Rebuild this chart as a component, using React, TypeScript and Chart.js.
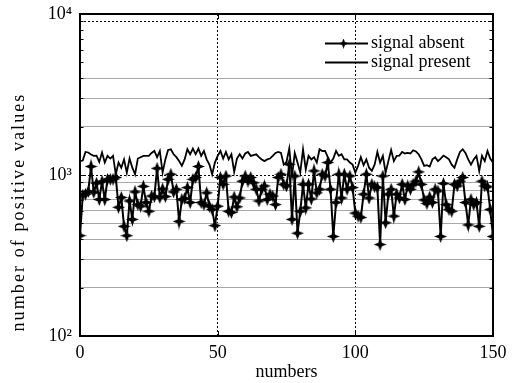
import React, { useEffect, useRef } from 'react';
import { Chart, registerables } from 'chart.js';

Chart.register(...registerables);

// sample numbers (x axis)
const sampleNumbers: number[] = Array.from({ length: 151 }, (_, i) => i);

const signalAbsent: number[] = [
  420, 750, 760, 790, 1130, 780, 890, 705, 910, 705,
  940, 940, 940, 965, 630, 725, 480, 420, 690, 530,
  785, 655, 640, 850, 675, 595, 740, 735, 1100, 725,
  820, 735, 940, 1010, 785, 815, 515, 705, 715, 835,
  675, 940, 965, 1130, 675, 655, 775, 640, 610, 485,
  640,
  965, 875, 985, 595, 585, 730, 635, 720, 915, 985,
  915, 965, 895, 815, 690, 815, 855, 705, 760, 740,
  655, 965, 1010, 875, 855, 1165, 530, 985, 435, 595,
  875, 625, 875, 710, 1060, 775, 815, 1010, 985, 1195,
  815, 415, 675, 1010, 720, 1010, 815, 985, 835, 580, 555,
  545, 760, 1010, 720, 875, 845, 835, 370, 985, 505,
  760, 815, 555, 760, 720, 875, 705, 855, 815, 875,
  915, 1045, 875, 700, 665, 730, 675, 815, 795, 415,
  885, 655, 610, 595, 875, 855, 915, 965, 675, 490,
  705, 655, 675, 480, 915, 855, 845, 610, 415,
];

const signalPresent: number[] = [
  1220, 1230, 1390, 1380, 1340, 1315, 1320, 1205, 1380, 1195,
  1315, 1265, 1315, 1010, 1195, 1110, 1250, 1035, 1265, 1110,
  1010, 1265, 1290, 1315, 1315, 1315, 1370, 1410, 1290, 1410,
  1035, 1250, 1430, 1445, 1345, 1290, 1220, 1140, 1250, 1445,
  1345, 1460, 1345, 1460, 1315, 1410, 1250, 1160, 1010, 1195,
  1315, 1410, 1265, 1390, 1250, 1345, 1045, 1265, 1345, 1265,
  1360, 1390, 1315, 1330, 1345, 1290, 1250, 1220, 1250, 1265,
  1315, 1370, 1390, 1370, 1160, 1205, 1460, 985, 1370, 1195,
  1035, 1445, 1085, 1315, 1250, 1290, 1195, 1445, 1410, 1410,
  1290, 1195, 1265, 1410, 1315, 1345, 1250, 1250, 1195, 1160,
  1035, 1140, 1290, 1150, 1250, 1110, 1060, 1160, 1390, 1195,
  1315, 1035, 1220, 1430, 1220, 1315, 1320, 1390, 1360, 1370,
  1360, 1425, 1400, 1345, 1250, 1140, 1150, 1130, 1250, 1290,
  1220, 1265, 1320, 1290, 1250, 1160, 1110, 1250, 1390, 1445,
  1370, 1250, 1160, 1250, 1315, 1060, 1315, 1220, 1410, 1265,
  1195,
];

const seriesLabels = ['signal absent', 'signal present'];
const xTitle = 'numbers';
const yTitle = 'number of positive values';

const xTicks: number[] = [0, 50, 100, 150];
const yMajorTicks: number[] = [100, 1000, 10000];
const yMinorTicks: number[] = [200, 300, 400, 500, 600, 700, 800, 900, 2000, 3000, 4000, 5000, 6000, 7000, 8000, 9000];
const yHiddenMinor: number[] = [5000, 6000, 7000, 8000];
const yDottedMinor: number[] = [9000];
const yTickLabels: Record<number, string> = { 100: '10²', 1000: '10³', 10000: '10⁴' };

const FONT = '"Liberation Serif", "Times New Roman", serif';

function makeStar(size: number): HTMLCanvasElement {
  const c = document.createElement('canvas');
  c.width = size;
  c.height = size;
  const g = c.getContext('2d')!;
  const r = size / 2;
  const ri = size * 0.2;
  g.beginPath();
  for (let k = 0; k < 8; k++) {
    const ang = (k * Math.PI) / 4 - Math.PI / 2;
    const rad = k % 2 === 0 ? r : ri;
    g.lineTo(r + rad * Math.cos(ang), r + rad * Math.sin(ang));
  }
  g.closePath();
  g.fillStyle = '#000';
  g.fill();
  return c;
}

export default function App() {
  const ref = useRef<HTMLCanvasElement | null>(null);

  useEffect(() => {
    if (!ref.current) return;
    const star = makeStar(13);

    const frame = {
      id: 'frame',
      afterDraw(chart: any) {
        const { ctx, chartArea } = chart;
        const { left, right, top, bottom } = chartArea;
        const ys = chart.scales.y;
        const xs = chart.scales.x;
        ctx.save();
        ctx.strokeStyle = '#000';
        ctx.lineWidth = 1;
        // inward tick marks
        const all = [...yMajorTicks, ...yMinorTicks];
        all.forEach((v) => {
          const py = Math.round(ys.getPixelForValue(v)) + 0.5;
          const len = yMajorTicks.includes(v) ? 6 : 3.5;
          ctx.beginPath();
          ctx.moveTo(left, py);
          ctx.lineTo(left + len, py);
          ctx.moveTo(right, py);
          ctx.lineTo(right - len, py);
          ctx.stroke();
        });
        xTicks.forEach((v) => {
          const px = Math.round(xs.getPixelForValue(v)) + 0.5;
          ctx.beginPath();
          ctx.moveTo(px, bottom);
          ctx.lineTo(px, bottom - 5);
          ctx.moveTo(px, top);
          ctx.lineTo(px, top + 5);
          ctx.stroke();
        });
        // box
        ctx.lineWidth = 2;
        ctx.strokeRect(left, top, right - left, bottom - top);

        // legend
        ctx.font = `18px ${FONT}`;
        ctx.fillStyle = '#000';
        ctx.textBaseline = 'middle';
        ctx.textAlign = 'left';
        const x0 = right - 168;
        const x1 = right - 125;
        chart.data.datasets.forEach((ds: any, i: number) => {
          const y = Math.round(top + 29 + i * 19) + 0.5;
          ctx.lineWidth = 2;
          ctx.beginPath();
          ctx.moveTo(x0, y);
          ctx.lineTo(x1, y);
          ctx.stroke();
          if (i === 0) {
            ctx.drawImage(star, (x0 + x1) / 2 - 8, y - 5, 10, 10);
          }
          ctx.fillText(ds.label, x1 + 3, y);
        });

        // y axis title (wider letter spacing as in the original)
        ctx.save();
        ctx.translate(19, 212);
        ctx.rotate(-Math.PI / 2);
        ctx.font = `18px ${FONT}`;
        (ctx as any).letterSpacing = '2.1px';
        ctx.textAlign = 'center';
        ctx.textBaseline = 'middle';
        ctx.fillText(yTitle, 0, 0);
        ctx.restore();

        ctx.restore();
      },
    };

    const chart = new Chart(ref.current, {
      type: 'line',
      data: {
        datasets: [
          {
            label: seriesLabels[0],
            data: sampleNumbers.map((x, i) => ({ x, y: signalAbsent[i] })),
            borderColor: '#000',
            backgroundColor: '#000',
            borderWidth: 2,
            pointStyle: star as any,
            pointRadius: 6,
            tension: 0,
          },
          {
            label: seriesLabels[1],
            data: sampleNumbers.map((x, i) => ({ x, y: signalPresent[i] })),
            borderColor: '#000',
            backgroundColor: '#000',
            borderWidth: 1.8,
            pointRadius: 0,
            tension: 0,
          },
        ],
      },
      options: {
        animation: false,
        responsive: false,
        devicePixelRatio: 1,
        layout: { padding: { left: 0, right: 21, top: 14, bottom: 0 } },
        plugins: {
          legend: { display: false },
          tooltip: { enabled: false },
        },
        scales: {
          x: {
            type: 'linear',
            min: 0,
            max: 150,
            afterBuildTicks: (scale: any) => {
              scale.ticks = xTicks.map((v) => ({ value: v }));
            },
            afterFit: (scale: any) => {
              scale.height = 47;
              scale.paddingLeft = 0;
              scale.paddingRight = 0;
            },
            ticks: {
              autoSkip: false,
              maxRotation: 0,
              padding: 6,
              color: '#000',
              font: { family: FONT, size: 18 },
              callback: (v: any) => String(v),
            },
            grid: {
              drawTicks: false,
              lineWidth: 1,
              color: (ctx: any) => {
                const v = ctx.tick?.value;
                return v === 0 || v === 150 ? 'rgba(0,0,0,0)' : '#000';
              },
            },
            border: { display: false, dash: [2, 2] },
            title: {
              display: true,
              text: xTitle,
              color: '#000',
              font: { family: FONT, size: 18 },
              padding: { top: 0, bottom: 0 },
            },
          },
          y: {
            type: 'logarithmic',
            min: 100,
            max: 10000,
            afterBuildTicks: (scale: any) => {
              scale.ticks = [...yMajorTicks, ...yMinorTicks]
                .sort((a, b) => a - b)
                .map((v) => ({ value: v }));
            },
            afterFit: (scale: any) => {
              scale.width = 80;
              scale.paddingTop = 0;
              scale.paddingBottom = 0;
            },
            ticks: {
              autoSkip: false,
              padding: 8,
              color: '#000',
              font: { family: FONT, size: 18 },
              callback: (v: any) => yTickLabels[v as number] ?? '',
            },
            grid: {
              drawTicks: false,
              lineWidth: 1,
              color: (ctx: any) => {
                const v = ctx.tick?.value;
                if (v === 100 || v === 10000) return 'rgba(0,0,0,0)';
                if (yHiddenMinor.includes(v)) return 'rgba(0,0,0,0)';
                if (yMajorTicks.includes(v) || yDottedMinor.includes(v)) return '#000';
                return '#a8a8a8';
              },
            },
            border: {
              display: false,
              dash: (ctx: any) => {
                const v = ctx.tick?.value;
                return yMajorTicks.includes(v) || yDottedMinor.includes(v) ? [2, 2] : [];
              },
            } as any,
            title: { display: false },
          },
        },
      },
      plugins: [frame],
    } as any);

    return () => chart.destroy();
  }, []);

  return (
    <div style={{ position: 'absolute', left: 0, top: 0, width: 514, height: 383, background: '#fff' }}>
      <canvas ref={ref} width={514} height={383} style={{ display: 'block' }} />
    </div>
  );
}
